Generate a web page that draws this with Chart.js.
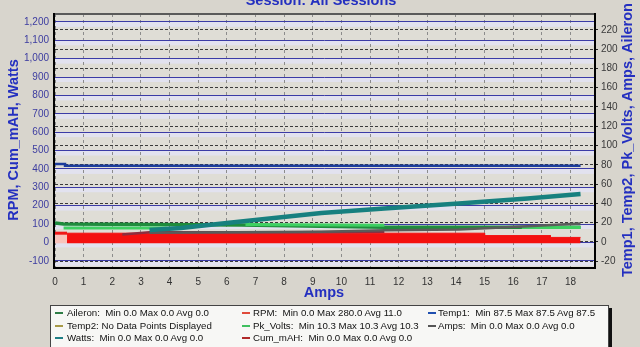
<!DOCTYPE html>
<html><head><meta charset="utf-8">
<script src="https://cdn.jsdelivr.net/npm/chart.js@4.4.0/dist/chart.umd.min.js"></script>
<style>
html,body{margin:0;padding:0;background:#d8d5cd;width:640px;height:347px;overflow:hidden;font-family:Arial,"Liberation Sans",sans-serif}
#wrap{position:relative;width:640px;height:347px}
canvas{position:absolute;left:0;top:0}
#legend{position:absolute;left:50px;top:305px;width:557px;height:48px;background:#f7f7f5;border:1px solid #444;box-shadow:3px 3px 0 #111;}
.it{position:absolute;font-size:9.7px;color:#111;white-space:pre;line-height:12px}
.mk{position:absolute;width:8px;height:2px}
</style></head>
<body>
<div id="wrap">
<canvas id="c" width="640" height="347"></canvas>
<div id="legend"></div>
</div>
<script>
// ---- tick labels ----
const xTickLabels = [0,1,2,3,4,5,6,7,8,9,10,11,12,13,14,15,16,17,18];
const leftTickLabels = [-100,0,100,200,300,400,500,600,700,800,900,1000,1100,1200];
const rightTickLabels = [-20,0,20,40,60,80,100,120,140,160,180,200,220];

// ---- series (x = Amps) ----
const rpmX = [0.42, 15.0, 15.0, 17.3, 17.3, 18.35];
const rpmY = [50, 50, 37, 37, 27, 27];
const rpmStartX = [0, 0.42];
const rpmStartY = [50, 50];
const wattsX = [3.3, 4.4, 6.0, 9.3, 11.5, 14.1, 16.5, 18.35];
const wattsY = [67, 78, 106, 160, 184, 212, 239, 263];
const temp1X = [0, 0.35, 0.35, 18.35];
const temp1Y = [80.8, 80.8, 79, 79];
const aileronX = [0, 0.3, 6.5, 11.5, 18.35];
const aileronY = [19.5, 18.5, 17.5, 15.2, 15.2];
const pkVoltsX = [0.3, 3.9, 5.0, 6.65, 11.5, 14.0, 16.3, 18.35];
const pkVoltsY = [14.3, 14.3, null, 18.0, 17.2, null, 14.8, 14.8];
const ampsX = [3.3, 9.3, 11.5, 14.1, 16.5, 18.35];
const ampsY = [9.5, 10.5, 12.0, 12.8, 16.0, 19.0];
const cumX = [2.35, 3.3, 8.5, 11.5];
const cumY = [43, 55, 55, 58];

// ---- legend entries ----
const legendRows = [
  [['Aileron:  Min 0.0 Max 0.0 Avg 0.0','#2e7d46'],['RPM:  Min 0.0 Max 280.0 Avg 11.0','#e04a3a'],['Temp1:  Min 87.5 Max 87.5 Avg 87.5','#2050b0']],
  [['Temp2: No Data Points Displayed','#a89a48'],['Pk_Volts:  Min 10.3 Max 10.3 Avg 10.3','#40c060'],['Amps:  Min 0.0 Max 0.0 Avg 0.0','#555555']],
  [['Watts:  Min 0.0 Max 0.0 Avg 0.0','#1f7f86'],['Cum_mAH:  Min 0.0 Max 0.0 Avg 0.0','#b02a2a']]
];

const FONT = 'Arial, "Liberation Sans", sans-serif';
const pts = (xs, ys) => xs.map((x, i) => ({x: x, y: ys[i]}));

const lg = document.getElementById('legend');
const colMk = [4, 191, 377], colTx = [16, 202, 387], rowC = [7, 19.7, 31.7];
legendRows.forEach((row, r) => row.forEach((e, c) => {
  const m = document.createElement('div'); m.className = 'mk';
  m.style.left = colMk[c] + 'px'; m.style.top = (rowC[r] - 1) + 'px'; m.style.background = e[1];
  lg.appendChild(m);
  const t = document.createElement('div'); t.className = 'it';
  t.style.left = colTx[c] + 'px'; t.style.top = (rowC[r] - 6) + 'px'; t.textContent = e[0];
  lg.appendChild(t);
}));

const deco = {
  id: 'deco',
  beforeDraw(chart) {
    const {ctx, chartArea: a} = chart;
    ctx.save();
    ctx.fillStyle = '#dfddd6';
    ctx.fillRect(a.left, a.top, a.right - a.left, a.bottom - a.top);
    const yS = chart.scales.y;
    ctx.fillStyle = 'rgba(226,226,242,0.9)';
    leftTickLabels.forEach(v => {
      const p = yS.getPixelForValue(v);
      ctx.fillRect(a.left, p, a.right - a.left, 5);
    });
    ctx.restore();
  },
  afterDatasetsDraw(chart) {
    const {ctx, chartArea: a} = chart;
    ctx.save();
    ctx.lineWidth = 2;
    ctx.strokeStyle = '#5a5a5a';
    ctx.beginPath(); ctx.moveTo(a.left - 1, a.top); ctx.lineTo(a.right + 1, a.top); ctx.stroke();
    ctx.strokeStyle = '#000';
    ctx.beginPath();
    ctx.moveTo(a.left - 1, a.top - 1); ctx.lineTo(a.left - 1, a.bottom + 1);
    ctx.lineTo(a.right + 1, a.bottom + 1); ctx.lineTo(a.right + 1, a.top - 1);
    ctx.stroke();
    ctx.restore();
  },
  afterDraw(chart) {
    const ctx = chart.ctx;
    ctx.save();
    ctx.fillStyle = '#2430c0';
    ctx.font = 'bold 14.5px ' + FONT;
    ctx.textAlign = 'center';
    ctx.textBaseline = 'alphabetic';
    ctx.fillText('Session: All Sessions', 321, 5);
    ctx.textBaseline = 'middle';
    ctx.fillText('Amps', 324, 293);
    ctx.save(); ctx.translate(14, 140); ctx.rotate(-Math.PI / 2);
    ctx.fillText('RPM, Cum_mAH, Watts', 0, 0); ctx.restore();
    ctx.save(); ctx.translate(628, 140); ctx.rotate(-Math.PI / 2);
    ctx.fillText('Temp1, Temp2, Pk_Volts, Amps, Aileron', 0, 0); ctx.restore();
    ctx.restore();
  }
};

const base = {type: 'line', pointRadius: 0, tension: 0, fill: false};

new Chart(document.getElementById('c'), {
  type: 'line',
  data: {
    datasets: [
      Object.assign({}, base, {label: 'Temp1', data: pts(temp1X, temp1Y), yAxisID: 'y2', borderColor: '#1c3c9c', borderWidth: 2.5}),
      Object.assign({}, base, {label: 'Watts', data: pts(wattsX, wattsY), yAxisID: 'y', borderColor: '#17807f', borderWidth: 4.5}),
      Object.assign({}, base, {label: 'Amps', data: pts(ampsX, ampsY), yAxisID: 'y2', borderColor: '#5a5c5a', borderWidth: 2.5}),
      Object.assign({}, base, {label: 'Cum_mAH', data: pts(cumX, cumY), yAxisID: 'y', borderColor: '#8c2f40', borderWidth: 2.5}),
      Object.assign({}, base, {label: 'Pk_Volts', data: pts(pkVoltsX, pkVoltsY), yAxisID: 'y2', borderColor: '#3ed062', borderWidth: 3, spanGaps: false}),
      Object.assign({}, base, {label: 'Aileron', data: pts(aileronX, aileronY), yAxisID: 'y2', borderColor: '#1e8c3c', borderWidth: 3.5}),
      Object.assign({}, base, {label: 'RPM', data: pts(rpmX, rpmY), yAxisID: 'y', borderColor: '#f41010', backgroundColor: '#f41010', borderWidth: 1, fill: {value: -5}}),
      Object.assign({}, base, {label: 'RPM start', data: pts(rpmStartX, rpmStartY), yAxisID: 'y', borderColor: '#f01818', backgroundColor: '#f8c4bc', borderWidth: 3, fill: {value: -5}})
    ]
  },
  options: {
    responsive: false,
    animation: false,
    devicePixelRatio: 1,
    layout: {padding: {top: 14, left: 0, right: 0, bottom: 0}},
    plugins: {legend: {display: false}, tooltip: {enabled: false}, title: {display: false}},
    scales: {
      x: {
        type: 'linear', position: 'bottom', min: 0, max: 18.82,
        afterFit: s => { s.height = 80; },
        afterBuildTicks: s => { s.ticks = xTickLabels.map(v => ({value: v})); },
        ticks: {font: {family: FONT, size: 10}, color: '#333', padding: 9, maxRotation: 0, autoSkip: false, callback: v => String(v)},
        grid: {color: '#8c8c8c', lineWidth: 1, drawTicks: false},
        border: {display: false, dash: [3, 3]}
      },
      y: {
        type: 'linear', position: 'left', min: -134, max: 1243,
        afterFit: s => { s.width = 55; },
        afterBuildTicks: s => { s.ticks = leftTickLabels.map(v => ({value: v})); },
        ticks: {font: {family: FONT, size: 10}, color: '#3c3ca0', padding: 6, autoSkip: false, callback: v => v.toLocaleString('en-US')},
        grid: {color: '#3b3ba6', lineWidth: 1, drawTicks: false},
        border: {display: false}
      },
      y2: {
        type: 'linear', position: 'right', min: -26.2, max: 236.6,
        afterFit: s => { s.width = 46; },
        afterBuildTicks: s => { s.ticks = rightTickLabels.map(v => ({value: v})); },
        ticks: {font: {family: FONT, size: 10}, color: '#3a3a3a', padding: 3, autoSkip: false, callback: v => String(v)},
        grid: {color: '#3a3a3a', lineWidth: 1, drawTicks: true, tickLength: 4, tickColor: '#222', tickBorderDash: []},
        border: {display: false, dash: [3, 2]}
      }
    }
  },
  plugins: [deco]
});
</script>
</body></html>
